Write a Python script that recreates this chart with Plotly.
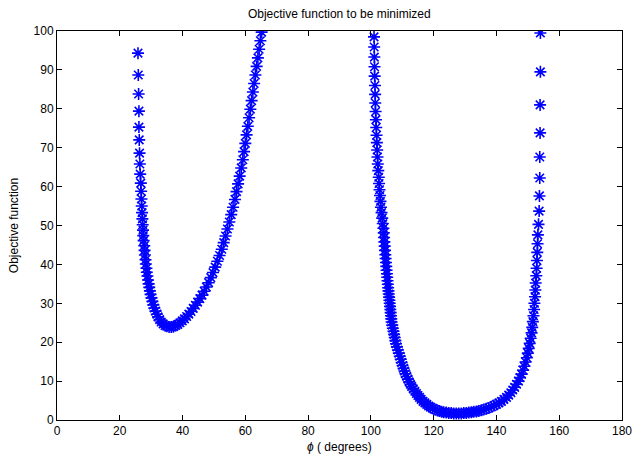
import plotly.graph_objects as go

# left branch (phi in degrees, objective value)
phi_left = [25.8, 25.9, 26.0, 26.1, 26.1, 26.2, 26.3, 26.4, 26.5, 26.7, 26.8, 26.9, 27.0, 27.1, 27.2,
            27.3, 27.4, 27.5, 27.6, 27.8, 27.9, 28.0, 28.2, 28.3, 28.5, 28.6, 28.8, 29.0, 29.2, 29.4,
            29.6, 29.8, 30.1, 30.4, 30.7, 31.0, 31.4, 31.8, 32.2, 32.7, 33.2, 33.8, 34.4, 35.0, 35.7,
            36.4, 37.1, 37.8, 38.5, 39.2, 39.9, 40.6, 41.3, 42.0, 42.7, 43.4, 44.1, 44.8, 45.5, 46.2,
            46.9, 47.6, 48.3, 49.0, 49.7, 50.4, 51.1, 51.8, 52.5, 53.1, 53.7, 54.3, 54.9, 55.5, 56.1,
            56.7, 57.2, 57.7, 58.2, 58.7, 59.2, 59.6, 60.0, 60.4, 60.8, 61.2, 61.6, 62.0, 62.4, 62.8,
            63.2, 63.6, 64.0, 64.4, 64.8, 65.2]
obj_left = [94.3, 88.7, 83.8, 79.4, 75.3, 72.0, 68.6, 65.8, 63.2, 60.9, 58.8, 56.8, 55.0, 53.3, 51.7,
            50.2, 48.8, 47.4, 46.1, 44.8, 43.6, 42.4, 41.2, 40.1, 39.0, 38.0, 37.0, 36.0, 35.0, 34.1,
            33.2, 32.3, 31.4, 30.5, 29.6, 28.8, 28.0, 27.2, 26.5, 25.8, 25.2, 24.7, 24.3, 24.1, 23.9,
            23.9, 24.0, 24.3, 24.6, 25.0, 25.5, 26.0, 26.6, 27.2, 27.9, 28.7, 29.5, 30.3, 31.2, 32.1,
            33.1, 34.2, 35.3, 36.6, 37.9, 39.3, 40.8, 42.3, 43.9, 45.6, 47.3, 49.1, 50.9, 52.8, 54.7,
            56.7, 58.7, 60.7, 62.7, 64.8, 66.9, 69.0, 71.1, 73.3, 75.5, 77.7, 79.9, 82.1, 84.3, 86.5,
            88.7, 90.9, 93.1, 95.3, 97.5, 99.7]

# right branch
phi_right = [101.0, 101.05, 101.1, 101.15, 101.2, 101.3, 101.35, 101.4, 101.5, 101.6, 101.7, 101.8,
             101.9, 102.0, 102.1, 102.2, 102.35, 102.5, 102.6, 102.75, 102.9, 103.05, 103.2, 103.4,
             103.6, 103.8, 104.0, 104.1, 104.2, 104.3, 104.4, 104.5, 104.6, 104.7, 104.8, 104.9, 105.0,
             105.1, 105.2, 105.3, 105.4, 105.5, 105.6, 105.7, 105.8, 105.9, 106.0, 106.1, 106.2, 106.3,
             106.4, 106.5, 106.6, 106.8, 107.0, 107.2, 107.4, 107.6, 107.8, 108.0, 108.3, 108.6, 108.9,
             109.2, 109.5, 109.8, 110.1, 110.4, 110.7, 111.0, 111.4, 111.8, 112.2, 112.6, 113.0, 113.5,
             114.0, 114.5, 115.0, 115.5, 116.0, 116.6, 117.2, 117.8, 118.4, 119.0, 119.7, 120.4, 121.1,
             121.8, 122.5, 123.2, 124.0, 124.8, 125.6, 126.4, 127.2, 128.0, 128.8, 129.6, 130.4, 131.2,
             132.0, 132.8, 133.6, 134.4, 135.2, 136.0, 136.8, 137.6, 138.4, 139.2, 140.0, 140.8, 141.6,
             142.4, 143.2, 143.9, 144.6, 145.2, 145.8, 146.4, 147.0, 147.5, 148.0, 148.5, 148.9, 149.3,
             149.7, 150.0, 150.3, 150.6, 150.9, 151.2, 151.4, 151.6, 151.8, 152.0, 152.1, 152.3, 152.4,
             152.5, 152.7, 152.8, 152.9, 153.0, 153.1, 153.2, 153.4, 153.6, 153.7, 153.8, 153.8, 153.9,
             153.9, 154.0, 154.0, 154.0]
obj_right = [98.5, 95.9, 93.3, 90.8, 88.4, 86.0, 83.7, 81.5, 79.3, 77.2, 75.2, 73.2,
             71.3, 69.4, 67.6, 65.8, 64.1, 62.4, 60.8, 59.2, 57.7, 56.2, 54.7, 53.3,
             51.9, 50.5, 49.3, 48.1, 46.9, 45.8, 44.7, 43.6, 42.5, 41.5, 40.5, 39.5, 38.5,
             37.6, 36.7, 35.8, 34.9, 34.0, 33.2, 32.4, 31.6, 30.8, 30.0, 29.2, 28.4, 27.6,
             26.8, 26.0, 25.2, 24.4, 23.6, 22.8, 22.0, 21.2, 20.4, 19.6, 18.8, 18.0, 17.2,
             16.4, 15.6, 14.8, 14.0, 13.3, 12.6, 11.9, 11.2, 10.5, 9.8, 9.2, 8.6, 8.0,
             7.4, 6.8, 6.3, 5.8, 5.3, 4.8, 4.4, 4.0, 3.6, 3.3, 3.0, 2.7, 2.5,
             2.3, 2.1, 2.0, 1.9, 1.8, 1.8, 1.7, 1.7, 1.7, 1.7, 1.8, 1.8, 1.9,
             2.0, 2.1, 2.2, 2.3, 2.5, 2.7, 2.9, 3.1, 3.4, 3.7, 4.0, 4.4, 4.8,
             5.3, 5.8, 6.4, 7.0, 7.7, 8.4, 9.2, 10.0, 10.9, 11.8, 12.8, 13.8,
             14.9, 16.0, 17.2, 18.4, 19.7, 21.0, 22.4, 23.8, 25.3, 26.8, 28.4, 30.0, 31.7,
             33.4, 35.2, 37.1, 39.0, 41.0, 43.1, 45.3, 47.6, 50.3, 53.7, 57.6, 62.2, 67.6,
             73.8, 81.0, 89.5, 99.5]

x_ticks = [0, 20, 40, 60, 80, 100, 120, 140, 160, 180]
y_ticks = [0, 10, 20, 30, 40, 50, 60, 70, 80, 90, 100]

star = dict(symbol="asterisk-open", size=10, color="#0000ff", line=dict(color="#0000ff", width=1.6))
font = "Liberation Sans, Arial"

fig = go.Figure()
fig.add_trace(go.Scatter(x=phi_left, y=obj_left, mode="markers", marker=star))
fig.add_trace(go.Scatter(x=phi_right, y=obj_right, mode="markers", marker=star))

axis_style = dict(showline=True, linecolor="black", linewidth=1, mirror="ticks", ticks="inside",
                  ticklen=5, tickcolor="black", showgrid=False, zeroline=False, automargin=False,
                  tickfont=dict(family=font, size=12, color="black"))

fig.update_xaxes(range=[0, 180], tickvals=x_ticks, **axis_style)
fig.update_yaxes(range=[0, 100], tickvals=y_ticks, **axis_style,
                 title=dict(text="Objective function", standoff=12,
                            font=dict(family=font, size=12, color="black")))

# x label as annotation so it can sit close to the tick labels
fig.add_annotation(text="<i>ϕ</i> ( degrees)", xref="paper", yref="paper", x=0.5, y=0,
                   xanchor="center", yanchor="middle", yshift=-27, showarrow=False,
                   font=dict(family=font, size=12, color="black"))

fig.update_layout(
    width=633, height=460,
    margin=dict(l=57, r=11, t=31, b=40),
    plot_bgcolor="white", paper_bgcolor="white",
    showlegend=False,
    title=dict(text="Objective function to be minimized", x=0.536, xanchor="center",
               y=0.97, yanchor="middle", automargin=False,
               font=dict(family=font, size=12, color="black")),
)

# drop the default 8px page margin so the figure fills the window
fig.write_html("out.html", config={"displayModeBar": False},
               post_script="document.body.style.margin='0px';")
